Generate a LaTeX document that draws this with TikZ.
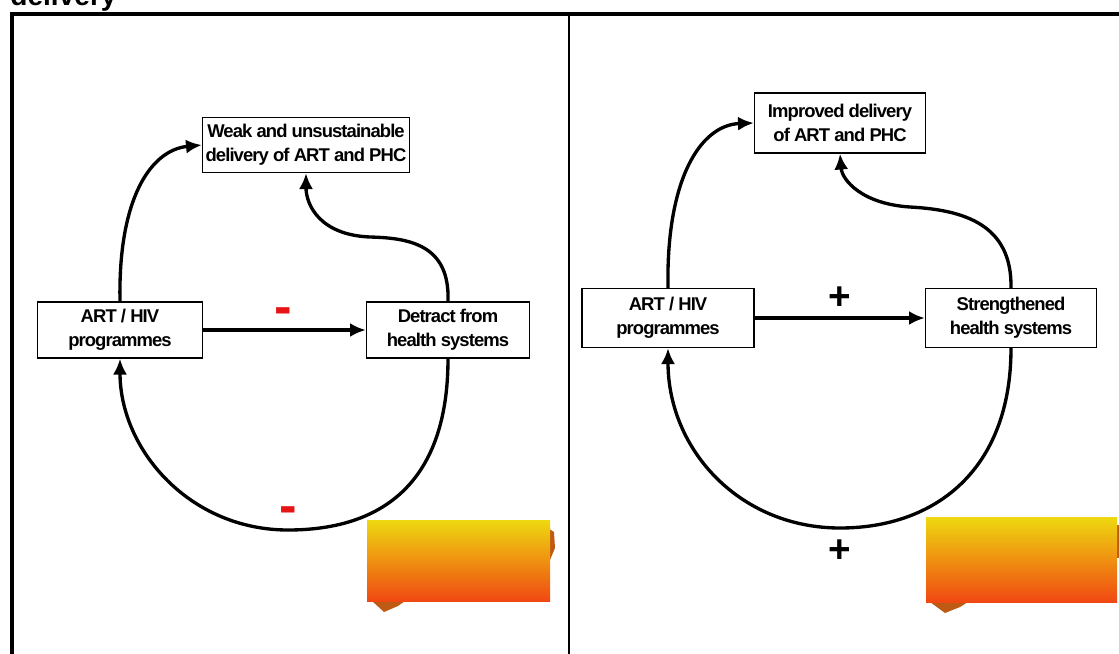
\documentclass[tikz,border=0pt]{standalone}
\usepackage{fontspec}
\setmainfont{Liberation Sans}
\newfontfamily\boxfont[LetterSpace=-5]{Liberation Sans}
\usetikzlibrary{arrows.meta}

\definecolor{signred}{RGB}{230,20,20}
\definecolor{topyellow}{RGB}{238,217,16}
\definecolor{midorange}{RGB}{238,150,20}
\definecolor{botorange}{RGB}{240,72,18}
\definecolor{peekbrown}{RGB}{190,90,20}

\begin{document}
\begin{tikzpicture}[x=0.02cm, y=-0.02cm,
    box/.style={draw, line width=0.8pt, fill=white, align=center, inner sep=0pt,
      font=\boxfont\bfseries\fontsize{10.5}{13.6}\selectfont},
    link/.style={line width=1.9pt, -{Latex[length=9pt,width=8pt]}},
    sign/.style={font=\bfseries\fontsize{22}{22}\selectfont, inner sep=0pt},
    minus/.style={font=\bfseries\fontsize{30}{30}\selectfont, inner sep=0pt, text=signred}]
    \useasboundingbox (0,0) rectangle (1119,653);

    % frame and title
    \node[anchor=base west, inner sep=0pt, font=\bfseries\fontsize{16}{16}\selectfont] (title) at (10,5) {delivery};
    \draw[line width=2.3pt] (12,660) -- (12,14) -- (1130,14);
    \draw[line width=0.9pt] (569,14) -- (569,660);

    % left panel
    \node[box, minimum width=4.14cm, minimum height=1.1cm] (weak) at (306,145) {Weak and unsustainable\\delivery of ART and PHC};
    \node[box, minimum width=3.3cm, minimum height=1.12cm] (artL) at (120,330) {ART / HIV\\programmes};
    \node[box, minimum width=3.26cm, minimum height=1.12cm] (detract) at (448,330) {Detract from\\health systems};

    \draw[link] (artL) -- (detract);
    \draw[link] (artL.north) .. controls (118,200) and (150,150) .. (weak.west);
    \draw[link] (detract.north) .. controls (450,245) and (410,238) .. (370,237)
        .. controls (320,235) and (306,205) .. (weak.south);
    \draw[link] (detract.south) .. controls (448,480) and (385,530) .. (288,530)
        .. controls (190,530) and (120,450) .. (artL.south);

    \node[minus] (minusA) at (283,316) {-};
    \node[minus] (minusB) at (288,515) {-};

    \fill[peekbrown] (372,601) -- (384,612) -- (398,606) -- (405,601) -- cycle;
    \fill[peekbrown] (548,528) -- (554,532) -- (555,548) -- (550,560) -- cycle;
    \shade[top color=topyellow, middle color=midorange, bottom color=botorange] (367,520) rectangle (550,601);

    % right panel
    \node[box, minimum width=3.42cm, minimum height=1.2cm] (improved) at (840,123) {Improved delivery\\of ART and PHC};
    \node[box, minimum width=3.44cm, minimum height=1.18cm] (artR) at (668,318) {ART / HIV\\programmes};
    \node[box, minimum width=3.42cm, minimum height=1.18cm] (strength) at (1011,318) {Strengthened\\health systems};

    \draw[link] (artR) -- (strength);
    \draw[link] (artR.north) .. controls (666,180) and (700,125) .. (improved.west);
    \draw[link] (strength.north) .. controls (1012,225) and (965,210) .. (910,207)
        .. controls (862,204) and (842,180) .. (improved.south);
    \draw[link] (strength.south) .. controls (1011,470) and (935,528) .. (840,528)
        .. controls (740,528) and (668,450) .. (artR.south);

    \node[sign] (plusA) at (840,298) {+};
    \node[sign] (plusB) at (840,551) {+};

    \fill[peekbrown] (930,602) -- (945,613) -- (960,607) -- (968,602) -- cycle;
    \fill[peekbrown] (1115,525) -- (1119,525) -- (1119,558) -- (1115,558) -- cycle;
    \shade[top color=topyellow, middle color=midorange, bottom color=botorange] (926,517) rectangle (1117,602);
\end{tikzpicture}
\end{document}
